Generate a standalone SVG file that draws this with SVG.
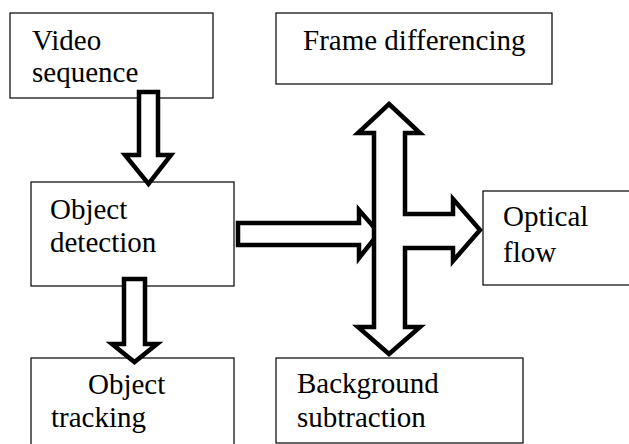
<svg xmlns="http://www.w3.org/2000/svg" width="629" height="444" viewBox="0 0 629 444">
<style>
.box{fill:#fff;stroke:#000;stroke-width:1.2}
.arr{fill:#fff;stroke:#000;stroke-width:4.5;stroke-linejoin:miter;stroke-miterlimit:10}
</style>
<rect width="629" height="444" fill="#fff"/>
<g font-family="Liberation Serif, Times New Roman, serif" font-size="29" fill="#000">
<g id="video"><rect class="box" x="10" y="13" width="203" height="85"/><text x="32" y="50">Video</text><text x="32" y="82">sequence</text></g>
<g id="frame"><rect class="box" x="276" y="13" width="276" height="71"/><text x="303" y="50">Frame differencing</text></g>
<g id="objdet"><rect class="box" x="31" y="182" width="203" height="104"/><text x="50" y="219">Object</text><text x="50" y="252">detection</text></g>
<g id="optical"><rect class="box" x="483" y="191" width="160" height="94"/><text x="503" y="226">Optical</text><text x="503" y="262">flow</text></g>
<g id="tracking"><rect class="box" x="31" y="358" width="203" height="100"/><text x="88" y="394">Object</text><text x="51" y="427">tracking</text></g>
<g id="background"><rect class="box" x="276" y="358" width="247" height="85"/><text x="297" y="393">Background</text><text x="297" y="427">subtraction</text></g>
</g>
<g id="connectors">
<path class="arr" d="M139,92 H158 V155 H171 L148.5,184 L125,155 H139 Z"/>
<path class="arr" d="M124,279 H145 V344 H157 L134.5,362 L112,344 H124 Z"/>
<path class="arr" d="M238,223 H359 V210 L379,233 L359,258 V245 H238 Z"/>
<path class="arr" d="M389,104 L420,133 H405 V214 H453 V199 L480,230 L453,261 V248 H405 V327 H420 L389,354 L358,327 H374 V133 H358 Z"/>
</g>
</svg>
